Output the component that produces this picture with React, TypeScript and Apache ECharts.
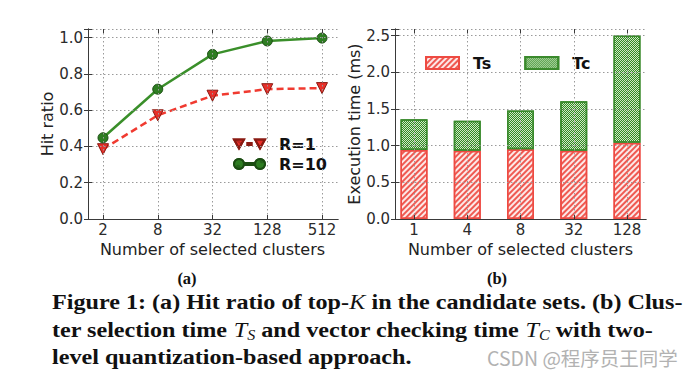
import React, { useEffect, useRef } from "react";
import * as echarts from "echarts";

// ---- data ----
const hitCategories = ["2", "8", "32", "128", "512"];
const hitR1 = [0.385, 0.572, 0.68, 0.716, 0.722];
const hitR10 = [0.448, 0.716, 0.908, 0.982, 0.998];
const hitTicks = [0, 0.2, 0.4, 0.6, 0.8, 1.0];

const timeCategories = ["1", "4", "8", "32", "128"];
const timeTs = [0.94, 0.93, 0.952, 0.93, 1.04];
const timeTc = [0.42, 0.41, 0.528, 0.676, 1.46];
const timeTicks = [0, 0.5, 1.0, 1.5, 2.0, 2.5];

const SANS = "DejaVu Sans";
const SERIF = "Liberation Serif";

const iconR1 =
  "path://M0,0 L10,0 L5,9 Z M13.5,3.5 L17.5,3.5 L17.5,5.5 L13.5,5.5 Z M21,0 L31,0 L26,9 Z";
const iconR10 =
  "path://M0,6 A5,5 0 1,0 10,6 A5,5 0 1,0 0,6 Z M10,5 L21,5 L21,7 L10,7 Z M21,6 A5,5 0 1,0 31,6 A5,5 0 1,0 21,6 Z";

function frameAxes(gridIndex: number) {
  const line = { show: true, lineStyle: { color: "#3a3a3a", width: 1 } };
  return [
    { type: "value", gridIndex, position: "bottom", min: 0, max: 1, z: 8, axisLine: line, axisTick: { show: false }, axisLabel: { show: false }, splitLine: { show: false } },
    { type: "value", gridIndex, position: "top", min: 0, max: 1, z: 8, axisLine: line, axisTick: { show: false }, axisLabel: { show: false }, splitLine: { show: false } },
  ];
}

export default function App() {
  const ref = useRef<HTMLDivElement>(null);
  useEffect(() => {
    if (!ref.current) return;
    const chart = echarts.init(ref.current, null, { renderer: "svg" });

    const tickLabel = { fontFamily: SANS, fontSize: 15, color: "#2b2b2b" };
    const nameStyle = { fontFamily: SANS, fontSize: 16, color: "#222" };
    const grid = (left: number, width: number) => ({
      left, top: 29, width, height: 190, outerBoundsMode: "none", containLabel: false,
    });
    const frameLine = { show: true, lineStyle: { color: "#3a3a3a", width: 1 } };
    const dotted = { show: true, lineStyle: { color: "#9a9a9a", width: 1, type: [1.5, 2.5] } };
    const inTick = { show: true, inside: true, length: 4, lineStyle: { color: "#3a3a3a" } };

    const hitLabelFmt = (v: number) =>
      hitTicks.some((t) => Math.abs(t - v) < 1e-6) ? v.toFixed(1) : "";
    const timeLabelFmt = (v: number) =>
      timeTicks.some((t) => Math.abs(t - v) < 1e-6) ? v.toFixed(1) : "";

    const CAP = 21;
    const CAP_SX = 1.15;
    const capB = { fontFamily: SERIF, fontWeight: "bold", fontSize: CAP, fill: "#111", lineHeight: 24 };
    const capI = { fontFamily: SERIF, fontStyle: "italic", fontSize: CAP, fill: "#111", lineHeight: 24 };

    const option: any = {
      animation: false,
      backgroundColor: "#ffffff",
      aria: { enabled: true, decal: { show: true } },
      grid: [grid(88, 250), grid(103, 219), grid(395, 251), grid(414, 213)],
      xAxis: [
        ...frameAxes(0),
        {
          type: "category", gridIndex: 1, data: hitCategories, boundaryGap: false, z: 6,
          axisLine: { show: false }, axisTick: inTick,
          axisLabel: { ...tickLabel, margin: 3 },
          splitLine: dotted,
          name: "Number of selected clusters", nameLocation: "middle", nameGap: 21, nameTextStyle: nameStyle,
        },
        {
          type: "category", gridIndex: 1, data: hitCategories, boundaryGap: false, position: "top", z: 6,
          axisLine: { show: false }, axisTick: inTick, axisLabel: { show: false }, splitLine: { show: false },
        },
        ...frameAxes(2),
        {
          type: "category", gridIndex: 3, data: timeCategories, boundaryGap: false, z: 6,
          axisLine: { show: false }, axisTick: inTick,
          axisLabel: { ...tickLabel, margin: 3 },
          splitLine: dotted,
          name: "Number of selected clusters", nameLocation: "middle", nameGap: 21, nameTextStyle: nameStyle,
        },
        {
          type: "category", gridIndex: 3, data: timeCategories, boundaryGap: false, position: "top", z: 6,
          axisLine: { show: false }, axisTick: inTick, axisLabel: { show: false }, splitLine: { show: false },
        },
      ],
      yAxis: [
        {
          type: "value", gridIndex: 0, min: 0, max: 1.048, interval: 0.2, z: 8,
          axisLine: frameLine, axisTick: inTick,
          axisLabel: { ...tickLabel, margin: 5, formatter: hitLabelFmt },
          splitLine: dotted,
          name: "Hit ratio", nameLocation: "middle", nameGap: 32, nameTextStyle: nameStyle,
        },
        {
          type: "value", gridIndex: 0, min: 0, max: 1.048, interval: 0.2, position: "right", z: 8,
          axisLine: frameLine, axisTick: inTick, axisLabel: { show: false }, splitLine: { show: false },
        },
        { type: "value", gridIndex: 1, min: 0, max: 1.048, show: false },
        {
          type: "value", gridIndex: 2, min: 0, max: 2.59, interval: 0.5, z: 8,
          axisLine: frameLine, axisTick: inTick,
          axisLabel: { ...tickLabel, margin: 5, formatter: timeLabelFmt },
          splitLine: dotted,
          name: "Execution time (ms)", nameLocation: "middle", nameGap: 29, nameTextStyle: nameStyle,
        },
        {
          type: "value", gridIndex: 2, min: 0, max: 2.59, interval: 0.5, position: "right", z: 8,
          axisLine: frameLine, axisTick: inTick, axisLabel: { show: false }, splitLine: { show: false },
        },
        { type: "value", gridIndex: 3, min: 0, max: 2.59, show: false },
      ],
      legend: [
        {
          data: [
            { name: "R=1", icon: iconR1 },
            { name: "R=10", icon: iconR10 },
          ],
          orient: "vertical", left: 228, top: 131, itemWidth: 31, itemHeight: 12, itemGap: 4,
          selectedMode: false,
          textStyle: { fontFamily: SANS, fontWeight: "bold", fontSize: 16, color: "#111", padding: [0, 0, 0, 9] },
        },
        {
          data: [
            { name: "Ts", icon: "rect" },
            { name: "Tc", icon: "rect" },
          ],
          orient: "horizontal", left: 420, top: 50, itemWidth: 33, itemHeight: 12, itemGap: 33,
          selectedMode: false,
          textStyle: { fontFamily: SANS, fontWeight: "bold", fontSize: 16, color: "#111", padding: [0, 0, 0, 9] },
        },
      ],
      series: [
        {
          name: "R=1", type: "line", xAxisIndex: 2, yAxisIndex: 2, data: hitR1, clip: false,
          symbol: "triangle", symbolRotate: 180, symbolSize: 11,
          lineStyle: { color: "#f03a30", width: 2.5, type: [7, 4] },
          itemStyle: { color: "#e8302a", borderColor: "#8a1a12", borderWidth: 1 },
          z: 3,
        },
        {
          name: "R=10", type: "line", xAxisIndex: 2, yAxisIndex: 2, data: hitR10, clip: false,
          symbol: "circle", symbolSize: 10,
          lineStyle: { color: "#3a8f2a", width: 2.5 },
          itemStyle: { color: "#2e7d22", borderColor: "#1b4d12", borderWidth: 1 },
          z: 3,
        },
        {
          name: "Ts", type: "bar", xAxisIndex: 6, yAxisIndex: 5, data: timeTs, stack: "t", clip: false,
          barWidth: 27,
          itemStyle: {
            color: "#fde9e8", borderColor: "#ee4a42", borderWidth: 1.5,
            decal: { symbol: "rect", symbolSize: 1, color: "#ef5a52", dashArrayX: [1, 0], dashArrayY: [1.2, 1.8], rotation: -Math.PI / 4 },
          },
        },
        {
          name: "Tc", type: "bar", xAxisIndex: 6, yAxisIndex: 5, data: timeTc, stack: "t", clip: false,
          barWidth: 27,
          itemStyle: {
            color: "#cfe8c4", borderColor: "#3a8a2c", borderWidth: 1.5,
            decal: { symbol: "rect", symbolSize: 1, color: "#318a24", dashArrayX: [[1, 1], [0, 1, 1, 0]], dashArrayY: [1, 0], rotation: 0 },
          },
        },
      ],
      graphic: [
        { type: "text", x: 187, y: 278, style: { text: "(a)", font: `bold 16.5px "${SERIF}"`, fill: "#111", align: "center", verticalAlign: "middle" } },
        { type: "text", x: 497, y: 278, style: { text: "(b)", font: `bold 16.5px "${SERIF}"`, fill: "#111", align: "center", verticalAlign: "middle" } },
        {
          type: "text", x: 52, y: 302, scaleX: CAP_SX,
          style: {
            text: "{b|Figure 1: (a) Hit ratio of top-}{i|K}{b| in the candidate sets. (b) Clus-}",
            verticalAlign: "middle", align: "left", fill: "#111",
            rich: { b: capB, i: capI },
          },
        },
        {
          type: "text", x: 52, y: 330, scaleX: CAP_SX,
          style: {
            text: "{b|ter selection time }{i|T}{s|S}{b| and vector checking time }{i|T}{s|C}{b| with two-}",
            verticalAlign: "middle", align: "left", fill: "#111",
            rich: {
              b: capB,
              i: capI,
              s: { fontFamily: SERIF, fontStyle: "italic", fontSize: 14, fill: "#111", lineHeight: 14, verticalAlign: "bottom" },
            },
          },
        },
        {
          type: "text", x: 52, y: 357, scaleX: CAP_SX,
          style: { text: "level quantization-based approach.", font: `bold ${CAP}px "${SERIF}"`, fill: "#111", align: "left", verticalAlign: "middle" },
        },
        {
          type: "text", x: 487, y: 357,
          style: { text: "CSDN @程序员王同学", font: `19.5px "Noto Sans CJK SC"`, fill: "#b2b2b2", align: "left", verticalAlign: "middle" },
        },
      ],
    };
    chart.setOption(option);
    return () => chart.dispose();
  }, []);
  return <div ref={ref} style={{ position: "fixed", left: 0, top: 0, width: 694, height: 378 }} />;
}
